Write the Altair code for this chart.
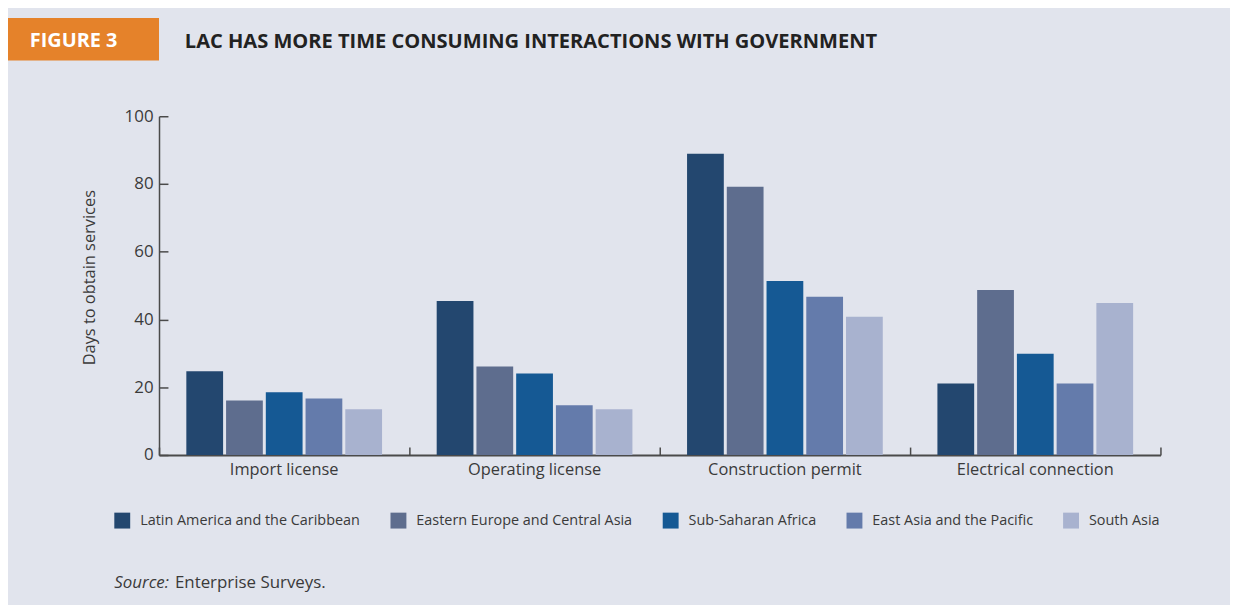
import altair as alt
import pandas as pd

categories = ["Import license", "Operating license", "Construction permit", "Electrical connection"]
regions = [
    "Latin America and the Caribbean",
    "Eastern Europe and Central Asia",
    "Sub-Saharan Africa",
    "East Asia and the Pacific",
    "South Asia",
]
lac = [24.7, 45.5, 88.9, 21.1]
eca = [16.1, 26.1, 79.2, 48.7]
ssa = [18.5, 24.1, 51.4, 29.9]
eap = [16.7, 14.7, 46.7, 21.1]
sas = [13.5, 13.5, 40.8, 44.9]
series = [lac, eca, ssa, eap, sas]
colors = ["#23476f", "#5e6d8e", "#155994", "#647bab", "#a8b2cf"]
y_ticks = [0, 20, 40, 60, 80, 100]

fig_label = ["FIGURE 3"]
fig_title = ["LAC HAS MORE TIME CONSUMING INTERACTIONS WITH GOVERNMENT"]
source_italic = ["Source:"]
source_text = ["Enterprise Surveys."]

rows = []
for r, vals in zip(regions, series):
    for c, v in zip(categories, vals):
        rows.append({"category": c, "region": r, "value": v})
df = pd.DataFrame(rows)

FONT = "Open Sans"
AX = "#4a4a4a"
TXT = "#3a3a3a"

xscale = alt.Scale(domain=categories, paddingInner=0, paddingOuter=0)
xoff_scale = alt.Scale(domain=regions, paddingInner=0.075, paddingOuter=0.6875)
yscale = alt.Scale(domain=[0, 100], nice=False)

bars = alt.Chart(df).mark_bar().encode(
    x=alt.X("category:N", scale=xscale, sort=categories,
            axis=alt.Axis(title=None, domain=True, domainColor=AX, domainWidth=2,
                          ticks=False, tickSize=0, labelAngle=0, labelFont=FONT,
                          labelFontSize=16.5, labelColor=TXT, labelPadding=7, grid=False)),
    xOffset=alt.XOffset("region:N", scale=xoff_scale, sort=regions),
    y=alt.Y("value:Q", scale=yscale,
            axis=alt.Axis(title="Days to obtain services", values=y_ticks, domain=True,
                          domainColor=AX, domainWidth=1.5, ticks=False, tickSize=0,
                          labelFont=FONT, labelFontSize=17, labelColor=TXT, labelPadding=6,
                          titleFont=FONT, titleFontSize=16.5, titleFontWeight="normal",
                          titleColor=TXT, titleAngle=-90, titleX=-70, titleY=162,
                          titleAlign="center", titleBaseline="middle", grid=False)),
    color=alt.Color("region:N", scale=alt.Scale(domain=regions, range=colors), sort=regions,
                    legend=alt.Legend(title=None, orient="none", legendX=-45, legendY=399,
                                      direction="horizontal", columns=5, symbolType="square",
                                      symbolSize=256, symbolStrokeWidth=0, symbolOpacity=1,
                                      labelFont=FONT, labelFontSize=14.5, labelColor=TXT,
                                      labelLimit=0, labelOffset=10, columnPadding=30,
                                      padding=0)),
)

tick_layer = alt.Chart(df).mark_bar(opacity=0).encode(
    x=alt.X("category:N", scale=xscale, sort=categories,
            axis=alt.Axis(orient="bottom", offset=-8, title=None, domain=False, labels=False,
                          ticks=True, tickSize=8, tickBand="extent", tickColor=AX,
                          tickWidth=1.5, grid=False)),
    xOffset=alt.XOffset("region:N", scale=xoff_scale, sort=regions),
    y=alt.Y("value:Q", scale=yscale,
            axis=alt.Axis(orient="left", offset=-9, title=None, domain=False, labels=False,
                          values=y_ticks, ticks=True, tickSize=9, tickColor=AX,
                          tickWidth=1.5, grid=False)),
)

box = alt.Chart(pd.DataFrame({"t": fig_label})).mark_rect(color="#e5822a").encode(
    x=alt.value(-154), x2=alt.value(0), y=alt.value(-99), y2=alt.value(-56)
)
box_text = alt.Chart(pd.DataFrame({"t": fig_label})).mark_text(
    font=FONT, fontSize=20, fontWeight="bold", color="white", align="left", baseline="middle"
).encode(text="t:N", x=alt.value(-130), y=alt.value(-76))
title_text = alt.Chart(pd.DataFrame({"t": fig_title})).mark_text(
    font=FONT, fontSize=20.2, fontWeight="bold", color="#222222", align="left", baseline="middle"
).encode(text="t:N", x=alt.value(26), y=alt.value(-75))
src1 = alt.Chart(pd.DataFrame({"t": source_italic})).mark_text(
    font=FONT, fontSize=17, fontStyle="italic", color=TXT, align="left", baseline="alphabetic"
).encode(text="t:N", x=alt.value(-45), y=alt.value(475))
src2 = alt.Chart(pd.DataFrame({"t": source_text})).mark_text(
    font=FONT, fontSize=17, color=TXT, align="left", baseline="alphabetic"
).encode(text="t:N", x=alt.value(16), y=alt.value(475))

chart = alt.layer(bars, tick_layer, box, box_text, title_text, src1, src2).resolve_axis(
    x="independent", y="independent"
).properties(
    width=1008, height=341,
    autosize=alt.AutoSizeParams(type="none"),
    padding={"left": 152, "top": 107, "right": 70, "bottom": 149},
    background="#e1e4ed",
).configure_view(stroke=None)

chart.save("out.html", embed_options={"renderer": "svg", "actions": False})
